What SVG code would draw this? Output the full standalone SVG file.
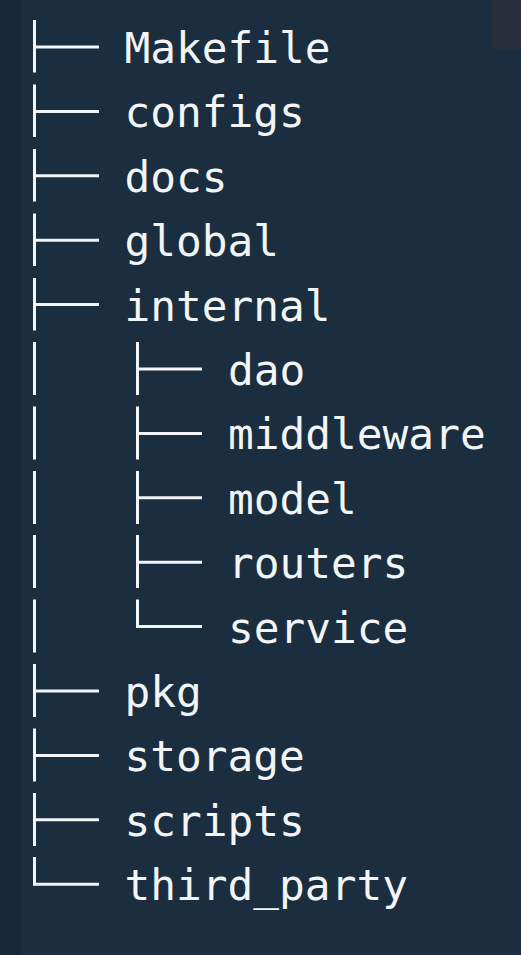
<svg xmlns="http://www.w3.org/2000/svg" width="521" height="955" viewBox="0 0 521 955">
<style>
.bg{fill:#1b2e3f}
.strip{fill:#172938}
.tab{fill:#262f3a}
.lbl{font-family:"DejaVu Sans Mono","Liberation Mono",monospace;font-size:42.8px;fill:#f2f4f5}
.c{stroke:#f2f4f5;stroke-width:3;fill:none;stroke-linecap:butt}
</style>
<rect class="bg" x="0" y="0" width="521" height="955"/>
<rect class="strip" x="0" y="0" width="22" height="955"/>
<rect class="tab" x="492" y="0" width="29" height="49"/>
<g id="connectors">
<path class="c" d="M34.5 20V72.5M34.5 47H99"/>
<path class="c" d="M34.5 84.5V137M34.5 111.4H99"/>
<path class="c" d="M34.5 149V201.5M34.5 175.8H99"/>
<path class="c" d="M34.5 213.5V266M34.5 240.2H99"/>
<path class="c" d="M34.5 278V330.5M34.5 304.6H99"/>
<path class="c" d="M34.5 342V395M34.5 406.5V459.5M34.5 471V524M34.5 535V588M34.5 599.5V652.5"/>
<path class="c" d="M137.5 342V395M137.5 369H202"/>
<path class="c" d="M137.5 406.5V459.5M137.5 433.4H202"/>
<path class="c" d="M137.5 471V524M137.5 497.8H202"/>
<path class="c" d="M137.5 535V588M137.5 562.2H202"/>
<path class="c" d="M137.5 599.5V626.6M136 626.6H202"/>
<path class="c" d="M34.5 664V717M34.5 691H99"/>
<path class="c" d="M34.5 728.5V781.5M34.5 755.4H99"/>
<path class="c" d="M34.5 793V846M34.5 819.8H99"/>
<path class="c" d="M34.5 857V884.2M33 884.2H99"/>
</g>
<g id="n-makefile"><text class="lbl" x="124.5" y="63">Makefile</text></g>
<g id="n-configs"><text class="lbl" x="124.5" y="127.4">configs</text></g>
<g id="n-docs"><text class="lbl" x="124.5" y="191.8">docs</text></g>
<g id="n-global"><text class="lbl" x="124.5" y="256.2">global</text></g>
<g id="n-internal"><text class="lbl" x="124.5" y="320.6">internal</text></g>
<g id="n-dao"><text class="lbl" x="228" y="385">dao</text></g>
<g id="n-middleware"><text class="lbl" x="228" y="449.4">middleware</text></g>
<g id="n-model"><text class="lbl" x="228" y="513.8">model</text></g>
<g id="n-routers"><text class="lbl" x="228" y="578.2">routers</text></g>
<g id="n-service"><text class="lbl" x="228" y="642.6">service</text></g>
<g id="n-pkg"><text class="lbl" x="124.5" y="707">pkg</text></g>
<g id="n-storage"><text class="lbl" x="124.5" y="771.4">storage</text></g>
<g id="n-scripts"><text class="lbl" x="124.5" y="835.8">scripts</text></g>
<g id="n-third_party"><text class="lbl" x="124.5" y="900.2">third_party</text></g>
</svg>
